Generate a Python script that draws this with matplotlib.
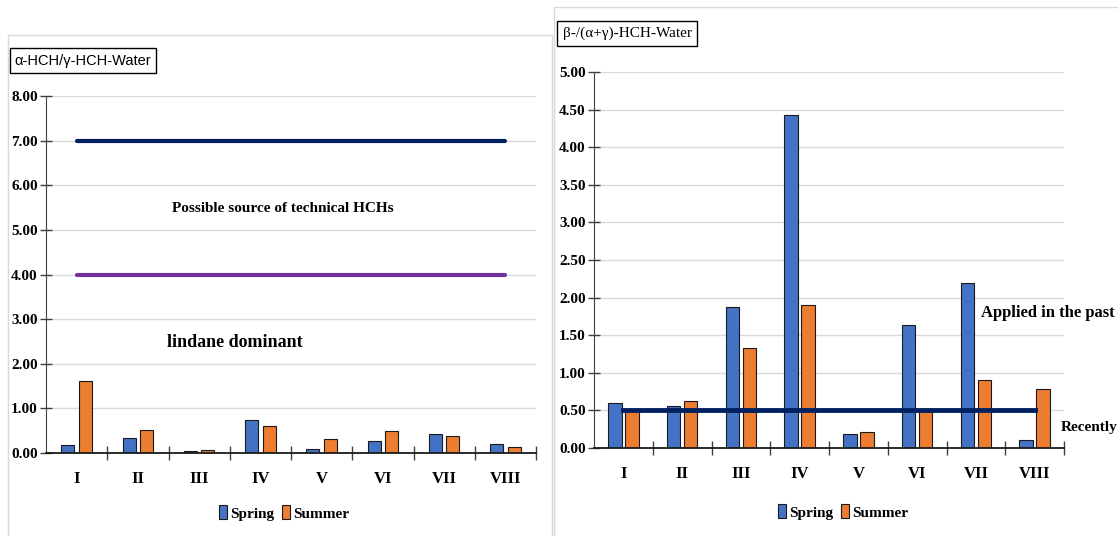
import numpy as np
import matplotlib.pyplot as plt
from matplotlib.patches import Rectangle, Patch
from matplotlib.ticker import FormatStrFormatter

# sampling sites
sites = ['I', 'II', 'III', 'IV', 'V', 'VI', 'VII', 'VIII']

# alpha-HCH / gamma-HCH ratio in water
ag_spring = [0.19, 0.34, 0.05, 0.75, 0.10, 0.28, 0.43, 0.20]
ag_summer = [1.62, 0.51, 0.07, 0.61, 0.32, 0.49, 0.37, 0.13]
ag_limits = [7.0, 4.0]

# beta-HCH / (alpha + gamma) ratio in water
b_spring = [0.60, 0.56, 1.87, 4.43, 0.18, 1.64, 2.19, 0.10]
b_summer = [0.49, 0.63, 1.33, 1.90, 0.21, 0.50, 0.90, 0.79]
b_limit = 0.5

SPRING = '#4472C4'
SUMMER = '#ED7D31'
NAVY = '#002060'
PURPLE = '#7030A0'
SERIF = ['Liberation Serif', 'DejaVu Serif']
NARROW = ['Liberation Sans Narrow', 'Liberation Sans', 'DejaVu Sans']

x = np.arange(len(sites))


def style_axis(ax, ymax, step):
    ax.set_xlim(-0.5, len(sites) - 0.5)
    ax.set_ylim(0, ymax)
    ax.set_yticks(np.arange(0, ymax + step / 2, step))
    ax.yaxis.set_major_formatter(FormatStrFormatter('%.2f'))
    ax.set_xticks(x, sites)
    ax.set_xticks(np.arange(0.5, len(sites), 1.0), minor=True)
    ax.tick_params(axis='x', which='major', length=0, pad=13)
    ax.tick_params(axis='x', which='minor', direction='inout', length=10,
                   width=1, color='#404040')
    ax.tick_params(axis='y', direction='inout', length=8, width=1,
                   color='#404040', pad=2)
    for lab in ax.get_xticklabels():
        lab.set_fontfamily(SERIF)
        lab.set_fontweight('bold')
        lab.set_fontsize(12)
    for lab in ax.get_yticklabels():
        lab.set_fontfamily(SERIF)
        lab.set_fontweight('bold')
        lab.set_fontsize(11)
    ax.yaxis.grid(True, color='#D9D9D9', lw=1)
    ax.set_axisbelow(True)
    for s in ['top', 'right']:
        ax.spines[s].set_visible(False)
    ax.spines['left'].set_color('#404040')
    ax.spines['bottom'].set_color('#1a1a1a')
    ax.spines['bottom'].set_linewidth(1.3)


def bars(ax, spring, summer, width, off):
    ax.bar(x - off, spring, width, color=SPRING, edgecolor='#1a1a1a', lw=0.8)
    ax.bar(x + off, summer, width, color=SUMMER, edgecolor='#1a1a1a', lw=0.8)


fig = plt.figure(figsize=(11.18, 5.36), dpi=100)
W, H = 1118, 536

# light panel frames, kept behind the axes
fig.patches.append(Rectangle((8 / W, -0.1), 544 / W, 1.1 - 35 / H,
                             transform=fig.transFigure, fill=False,
                             ec='#D9D9D9', lw=1, zorder=-2))
fig.patches.append(Rectangle((554 / W, -0.1), 0.6, 1.1 - 7 / H,
                             transform=fig.transFigure, fc='white',
                             ec='#D9D9D9', lw=1, zorder=-1))

# left panel: alpha/gamma
ax1 = fig.add_axes([46 / W, 83 / H, 490 / W, 357 / H])
ax1.patch.set_alpha(0)
bars(ax1, ag_spring, ag_summer, 0.215, 0.143)
ax1.plot(x, np.full(len(x), ag_limits[0]), color=NAVY, lw=3, solid_capstyle='round')
ax1.plot(x, np.full(len(x), ag_limits[1]), color=PURPLE, lw=3, solid_capstyle='round')
style_axis(ax1, 8, 1)
ax1.text(3.37, 5.47, 'Possible source of technical HCHs', ha='center', va='center',
         family=SERIF, weight='bold', fontsize=11)
ax1.text(2.59, 2.47, 'lindane dominant', ha='center', va='center',
         family=SERIF, weight='bold', fontsize=13)

# right panel: beta/(alpha+gamma)
ax2 = fig.add_axes([594 / W, 88 / H, 470 / W, 376 / H])
ax2.patch.set_alpha(0)
bars(ax2, b_spring, b_summer, 0.23, 0.145)
ax2.plot(x, np.full(len(x), b_limit), color=NAVY, lw=3.5, zorder=3)
style_axis(ax2, 5, 0.5)
fig.text(1115 / W, 1 - 313 / H, 'Applied in the past', ha='right', va='center',
         family=SERIF, weight='bold', fontsize=12)
ax2.text(7.45, 0.27, 'Recently', ha='left', va='center',
         family=SERIF, weight='bold', fontsize=11, clip_on=False)

# panel titles in boxes
box = dict(boxstyle='square,pad=0.35', fc='white', ec='black', lw=1)
fig.text(83 / W, 1 - 60.5 / H, 'α-HCH/γ-HCH-Water', ha='center', va='center',
         family=NARROW, fontsize=10.5, bbox=box)
fig.text(627 / W, 1 - 33.5 / H, 'β-/(α+γ)-HCH-Water', ha='center', va='center',
         family=SERIF, fontsize=11, bbox=box)

# legends
handles = [Patch(fc=SPRING, ec='#1a1a1a', lw=0.8, label='Spring'),
           Patch(fc=SUMMER, ec='#1a1a1a', lw=0.8, label='Summer')]
for cx, cy in [(284, 513), (843, 512)]:
    fig.legend(handles=handles, loc='center', bbox_to_anchor=(cx / W, 1 - cy / H),
               ncol=2, frameon=False, handlelength=0.55, handleheight=1.0,
               handletextpad=0.2, columnspacing=0.5,
               prop=dict(family=SERIF, weight='bold', size=11))

fig.savefig('out.png', dpi=100)
